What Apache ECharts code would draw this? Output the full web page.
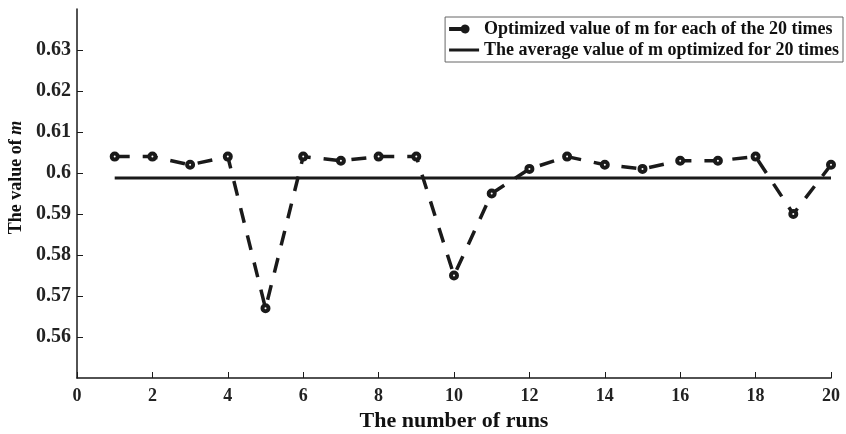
<!DOCTYPE html>
<html>
<head>
<meta charset="utf-8">
<style>
    html, body { margin: 0; padding: 0; background: #fff; }
    #chart { width: 846px; height: 434px; }
</style>
<script src="https://cdn.jsdelivr.net/npm/echarts@6/dist/echarts.min.js"></script>
</head>
<body>
<div id="chart"></div>
<script>
    // 数据
    var runs = [1, 2, 3, 4, 5, 6, 7, 8, 9, 10, 11, 12, 13, 14, 15, 16, 17, 18, 19, 20];
    var mValues = [0.604, 0.604, 0.602, 0.604, 0.567, 0.604, 0.603, 0.604, 0.604, 0.575,
                   0.595, 0.601, 0.604, 0.602, 0.601, 0.603, 0.603, 0.604, 0.590, 0.602];
    var avgValue = 0.5988;
    var avgRange = [1, 20];
    var seriesNames = ['Optimized value of m for each of the 20 times', 'The average value of m optimized for 20 times'];

    var font = '"Liberation Serif", "Times New Roman", serif';
    var ink = '#1a1a1a';

    // 图例图标：短线+圆点 / 实线 (加零长度点撑开包围盒)
    var iconDot = 'path://M0,3 L11.97,3 A4.5,4.5 0 1,1 11.97,7 L0,7 Z M30,0 L30,0 M30,10 L30,10';
    var iconLine = 'path://M0,3.5 L30,3.5 L30,6.5 L0,6.5 Z M0,0 L0,0 M0,10 L0,10';
    var legendItemStyle = { color: ink, borderColor: ink, borderWidth: 0, borderType: 'solid', opacity: 1 };

    var myChart = echarts.init(document.getElementById('chart'));
    myChart.setOption({
        animation: false,
        grid: { left: 77, right: 15, top: 9, bottom: 56, outerBoundsMode: 'none', containLabel: false },
        legend: {
            orient: 'vertical',
            right: 3,
            top: 17,
            itemWidth: 30,
            itemHeight: 10,
            itemGap: 3,
            padding: [3, 4, 3, 4],
            borderColor: '#666',
            borderWidth: 1,
            itemStyle: legendItemStyle,
            textStyle: { fontFamily: font, fontWeight: 'bold', fontSize: 18, color: '#111' },
            data: [
                { name: seriesNames[0], icon: iconDot, itemStyle: legendItemStyle, lineStyle: { type: 'solid' } },
                { name: seriesNames[1], icon: iconLine, itemStyle: legendItemStyle, lineStyle: { type: 'solid' } }
            ]
        },
        xAxis: {
            type: 'value',
            min: 0, max: 20, interval: 2,
            name: 'The number of runs',
            nameLocation: 'middle',
            nameGap: 31,
            nameTextStyle: { fontFamily: font, fontWeight: 'bold', fontSize: 22, color: '#111' },
            axisLine: { lineStyle: { color: ink, width: 1.5 } },
            axisTick: { inside: true, length: 6, lineStyle: { color: ink } },
            axisLabel: { fontFamily: font, fontWeight: 'bold', fontSize: 18, color: '#222', margin: 9 },
            splitLine: { show: false }
        },
        yAxis: {
            type: 'value',
            min: 0.55, max: 0.64, interval: 0.01,
            name: 'The value of {i|m}',
            nameLocation: 'middle',
            nameGap: 45,
            nameTextStyle: {
                fontFamily: font, fontWeight: 'bold', fontSize: 18, color: '#111',
                padding: [0, 0, 0, 32],
                rich: { i: { fontFamily: font, fontWeight: 'bold', fontStyle: 'italic', fontSize: 18, color: '#111' } }
            },
            axisLine: { show: true, lineStyle: { color: ink, width: 1.5 } },
            axisTick: { show: true, inside: true, length: 6, lineStyle: { color: ink } },
            axisLabel: {
                fontFamily: font, fontWeight: 'bold', fontSize: 20, color: '#222', margin: 6,
                showMinLabel: false, showMaxLabel: false,
                formatter: function (v) { return String(+v.toFixed(2)); }
            },
            splitLine: { show: false }
        },
        series: [{
            name: seriesNames[0],
            type: 'line',
            data: runs.map(function (r, i) { return [r, mValues[i]]; }),
            symbol: 'circle',
            symbolSize: 6,
            lineStyle: { color: ink, width: 3.5, type: [15, 13] },
            itemStyle: { color: '#fff', borderColor: ink, borderWidth: 4 },
            z: 3
        }, {
            name: seriesNames[1],
            type: 'line',
            data: avgRange.map(function (r) { return [r, avgValue]; }),
            symbol: 'none',
            lineStyle: { color: ink, width: 3 },
            itemStyle: { color: ink },
            z: 2
        }]
    });
</script>
</body>
</html>
